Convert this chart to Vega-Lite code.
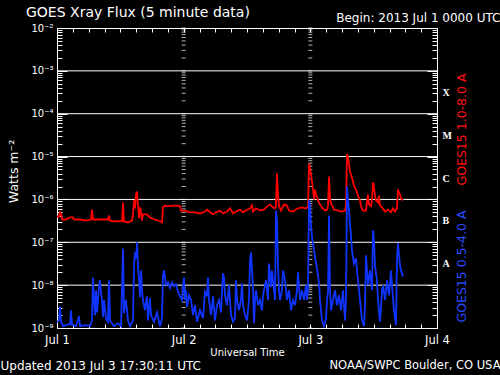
{
  "$schema": "https://vega.github.io/schema/vega-lite/v6.json",
  "width": 380,
  "height": 300,
  "autosize": {"type": "none"},
  "padding": {"left": 57, "top": 28, "right": 63, "bottom": 47},
  "background": "black",
  "title": {"text": "GOES Xray Flux (5 minute data)", "anchor": "start", "frame": "group", "dx": -31, "offset": -16, "baseline": "middle", "fontSize": 14, "fontWeight": "normal", "color": "white", "font": "DejaVu Sans"},
  "datasets": {
    "decades": [{"flux": 1e-3}, {"flux": 1e-4}, {"flux": 1e-5}, {"flux": 1e-6}, {"flux": 1e-7}, {"flux": 1e-8}],
    "logticks": [
      {"flux": 1e-9}, {"flux": 2e-9}, {"flux": 3e-9}, {"flux": 4e-9}, {"flux": 5e-9}, {"flux": 6e-9}, {"flux": 7e-9}, {"flux": 8e-9}, {"flux": 9e-9},
      {"flux": 1e-8}, {"flux": 2e-8}, {"flux": 3e-8}, {"flux": 4e-8}, {"flux": 5e-8}, {"flux": 6e-8}, {"flux": 7e-8}, {"flux": 8e-8}, {"flux": 9e-8},
      {"flux": 1e-7}, {"flux": 2e-7}, {"flux": 3e-7}, {"flux": 4e-7}, {"flux": 5e-7}, {"flux": 6e-7}, {"flux": 7e-7}, {"flux": 8e-7}, {"flux": 9e-7},
      {"flux": 1e-6}, {"flux": 2e-6}, {"flux": 3e-6}, {"flux": 4e-6}, {"flux": 5e-6}, {"flux": 6e-6}, {"flux": 7e-6}, {"flux": 8e-6}, {"flux": 9e-6},
      {"flux": 1e-5}, {"flux": 2e-5}, {"flux": 3e-5}, {"flux": 4e-5}, {"flux": 5e-5}, {"flux": 6e-5}, {"flux": 7e-5}, {"flux": 8e-5}, {"flux": 9e-5},
      {"flux": 1e-4}, {"flux": 2e-4}, {"flux": 3e-4}, {"flux": 4e-4}, {"flux": 5e-4}, {"flux": 6e-4}, {"flux": 7e-4}, {"flux": 8e-4}, {"flux": 9e-4},
      {"flux": 1e-3}, {"flux": 2e-3}, {"flux": 3e-3}, {"flux": 4e-3}, {"flux": 5e-3}, {"flux": 6e-3}, {"flux": 7e-3}, {"flux": 8e-3}, {"flux": 9e-3},
      {"flux": 1e-2}
    ],
    "long": [
      {"hour":0,"flux":4.0e-7},{"hour":0.38,"flux":4.0e-7},{"hour":0.57,"flux":5.0e-7},{"hour":0.76,"flux":4.7e-7},{"hour":0.95,"flux":3.4e-7},{"hour":1.71,"flux":3.4e-7},{"hour":2.46,"flux":3.8e-7},{"hour":3.03,"flux":3.8e-7},{"hour":3.22,"flux":3.4e-7},{"hour":4.36,"flux":3.4e-7},{"hour":5.49,"flux":3.2e-7},{"hour":6.44,"flux":3.4e-7},{"hour":6.63,"flux":5.8e-7},{"hour":6.82,"flux":3.4e-7},{"hour":8.15,"flux":3.4e-7},{"hour":9.66,"flux":3.4e-7},{"hour":9.85,"flux":4.2e-7},{"hour":10.04,"flux":3.2e-7},{"hour":10.42,"flux":3.1e-7},{"hour":12.32,"flux":3.1e-7},{"hour":12.51,"flux":8.5e-7},{"hour":12.69,"flux":3.1e-7},{"hour":13.45,"flux":2.9e-7},{"hour":14.21,"flux":3.2e-7},{"hour":14.40,"flux":4.5e-7},{"hour":14.59,"flux":9.5e-7},{"hour":14.78,"flux":6.2e-7},{"hour":14.97,"flux":1.3e-6},{"hour":15.16,"flux":1.53e-6},{"hour":15.35,"flux":7.2e-7},{"hour":15.54,"flux":3.6e-7},{"hour":15.73,"flux":6.5e-7},{"hour":15.92,"flux":5.0e-7},{"hour":16.11,"flux":3.2e-7},{"hour":16.29,"flux":4.5e-7},{"hour":17.05,"flux":4.5e-7},{"hour":17.62,"flux":3.8e-7},{"hour":18.57,"flux":3.4e-7},{"hour":19.52,"flux":3.1e-7},{"hour":19.89,"flux":2.9e-7},{"hour":20.08,"flux":6.5e-7},{"hour":20.46,"flux":7.2e-7},{"hour":20.84,"flux":6.9e-7},{"hour":21.79,"flux":7.2e-7},{"hour":22.74,"flux":7.2e-7},{"hour":23.31,"flux":6.9e-7},{"hour":23.49,"flux":5.5e-7},{"hour":24.25,"flux":5.5e-7},{"hour":25.20,"flux":5.0e-7},{"hour":26.15,"flux":5.0e-7},{"hour":27.09,"flux":4.7e-7},{"hour":28.04,"flux":5.2e-7},{"hour":28.42,"flux":5.8e-7},{"hour":28.99,"flux":5.0e-7},{"hour":29.56,"flux":4.5e-7},{"hour":30.13,"flux":5.0e-7},{"hour":30.88,"flux":5.5e-7},{"hour":31.45,"flux":4.7e-7},{"hour":32.21,"flux":5.2e-7},{"hour":32.78,"flux":6.2e-7},{"hour":33.35,"flux":4.7e-7},{"hour":33.92,"flux":5.2e-7},{"hour":34.67,"flux":5.8e-7},{"hour":35.24,"flux":5.0e-7},{"hour":35.81,"flux":5.5e-7},{"hour":36.57,"flux":6.2e-7},{"hour":36.95,"flux":7.2e-7},{"hour":37.14,"flux":5.2e-7},{"hour":37.71,"flux":6.2e-7},{"hour":38.46,"flux":5.5e-7},{"hour":39.22,"flux":5.8e-7},{"hour":39.79,"flux":6.9e-7},{"hour":40.36,"flux":7.6e-7},{"hour":40.93,"flux":6.5e-7},{"hour":41.31,"flux":6.2e-7},{"hour":41.49,"flux":6.9e-7},{"hour":41.68,"flux":4.0e-6},{"hour":41.87,"flux":1.3e-6},{"hour":42.06,"flux":7.2e-7},{"hour":42.44,"flux":5.5e-7},{"hour":43.01,"flux":7.6e-7},{"hour":43.58,"flux":7.2e-7},{"hour":43.96,"flux":5.5e-7},{"hour":44.72,"flux":5.2e-7},{"hour":45.28,"flux":5.8e-7},{"hour":45.66,"flux":6.2e-7},{"hour":46.42,"flux":6.5e-7},{"hour":46.99,"flux":6.2e-7},{"hour":47.56,"flux":6.5e-7},{"hour":47.75,"flux":6.9e-6},{"hour":47.94,"flux":5.5e-6},{"hour":48.13,"flux":3.8e-6},{"hour":48.32,"flux":2.5e-6},{"hour":48.51,"flux":1.7e-6},{"hour":48.70,"flux":1.0e-6},{"hour":48.88,"flux":1.7e-6},{"hour":49.07,"flux":1.3e-6},{"hour":49.45,"flux":9.5e-7},{"hour":49.83,"flux":7.6e-7},{"hour":50.21,"flux":6.5e-7},{"hour":50.78,"flux":5.5e-7},{"hour":51.16,"flux":5.8e-7},{"hour":51.35,"flux":7.2e-7},{"hour":51.54,"flux":3.4e-6},{"hour":51.73,"flux":1.05e-6},{"hour":51.92,"flux":8.1e-7},{"hour":52.48,"flux":5.8e-7},{"hour":53.24,"flux":5.5e-7},{"hour":54.00,"flux":5.2e-7},{"hour":54.57,"flux":5.5e-7},{"hour":54.76,"flux":7.2e-7},{"hour":54.95,"flux":1.15e-5},{"hour":55.14,"flux":9.5e-6},{"hour":55.33,"flux":6.5e-6},{"hour":55.52,"flux":4.5e-6},{"hour":55.89,"flux":3.2e-6},{"hour":56.27,"flux":2.1e-6},{"hour":56.65,"flux":1.7e-6},{"hour":57.03,"flux":1.23e-6},{"hour":57.41,"flux":9.5e-7},{"hour":57.60,"flux":6.9e-7},{"hour":57.98,"flux":5.5e-7},{"hour":58.55,"flux":5.5e-7},{"hour":58.74,"flux":9.0e-7},{"hour":58.93,"flux":1.3e-6},{"hour":59.12,"flux":7.6e-7},{"hour":59.49,"flux":6.9e-7},{"hour":59.68,"flux":9.5e-7},{"hour":59.87,"flux":2.5e-6},{"hour":60.06,"flux":1.89e-6},{"hour":60.25,"flux":1.23e-6},{"hour":60.44,"flux":9.5e-7},{"hour":60.82,"flux":8.5e-7},{"hour":61.01,"flux":1.23e-6},{"hour":61.20,"flux":7.2e-7},{"hour":61.58,"flux":6.5e-7},{"hour":62.15,"flux":5.2e-7},{"hour":62.72,"flux":5.8e-7},{"hour":63.28,"flux":5.0e-7},{"hour":63.66,"flux":6.2e-7},{"hour":64.04,"flux":5.2e-7},{"hour":64.42,"flux":6.2e-7},{"hour":64.61,"flux":1.7e-6},{"hour":64.80,"flux":1.45e-6},{"hour":64.99,"flux":1.3e-6},{"hour":65.18,"flux":1.05e-6},{"hour":65.56,"flux":9.5e-7}
    ],
    "short": [
      {"hour":0,"flux":1.37e-9},{"hour":0.38,"flux":1.5e-9},{"hour":0.57,"flux":3.2e-9},{"hour":0.76,"flux":1.4e-9},{"hour":1.14,"flux":1.1e-9},{"hour":1.71,"flux":1.17e-9},{"hour":2.46,"flux":1.23e-9},{"hour":2.65,"flux":2.6e-9},{"hour":2.84,"flux":1.17e-9},{"hour":3.6,"flux":1.1e-9},{"hour":4.17,"flux":1.9e-9},{"hour":4.36,"flux":1.1e-9},{"hour":5.31,"flux":1.17e-9},{"hour":6.25,"flux":1.1e-9},{"hour":6.63,"flux":1.5e-9},{"hour":6.82,"flux":1.5e-8},{"hour":7.01,"flux":4.5e-9},{"hour":7.2,"flux":2.0e-9},{"hour":7.39,"flux":7.6e-9},{"hour":7.58,"flux":2.3e-9},{"hour":7.77,"flux":4.5e-9},{"hour":7.96,"flux":1.0e-8},{"hour":8.15,"flux":1.3e-8},{"hour":8.34,"flux":6.5e-9},{"hour":8.53,"flux":4.5e-9},{"hour":8.72,"flux":1.8e-9},{"hour":8.91,"flux":4.5e-9},{"hour":9.28,"flux":1.7e-9},{"hour":9.66,"flux":1.4e-9},{"hour":9.85,"flux":1.3e-8},{"hour":10.04,"flux":1.5e-9},{"hour":10.8,"flux":1.1e-9},{"hour":11.56,"flux":1.3e-9},{"hour":12.13,"flux":1.1e-9},{"hour":12.51,"flux":7.2e-8},{"hour":12.69,"flux":2.2e-9},{"hour":13.07,"flux":4.5e-9},{"hour":13.45,"flux":1.5e-9},{"hour":13.83,"flux":1.1e-9},{"hour":14.4,"flux":1.5e-9},{"hour":14.59,"flux":2.9e-8},{"hour":14.78,"flux":5.8e-8},{"hour":14.97,"flux":4.2e-8},{"hour":15.16,"flux":1.0e-7},{"hour":15.35,"flux":2.9e-8},{"hour":15.54,"flux":1.3e-8},{"hour":15.73,"flux":5.2e-9},{"hour":15.92,"flux":2.2e-8},{"hour":16.11,"flux":7.6e-9},{"hour":16.29,"flux":4.5e-9},{"hour":16.67,"flux":2.6e-9},{"hour":17.05,"flux":5.5e-9},{"hour":17.24,"flux":1.5e-9},{"hour":17.62,"flux":5.0e-9},{"hour":17.81,"flux":2.0e-9},{"hour":18.38,"flux":1.4e-9},{"hour":18.95,"flux":2.3e-9},{"hour":19.52,"flux":1.1e-9},{"hour":19.89,"flux":1.7e-9},{"hour":20.08,"flux":1.7e-8},{"hour":20.27,"flux":2.2e-8},{"hour":20.65,"flux":1.0e-8},{"hour":21.03,"flux":1.17e-8},{"hour":21.41,"flux":8.5e-9},{"hour":21.79,"flux":1.17e-8},{"hour":22.17,"flux":9.5e-9},{"hour":22.55,"flux":1.05e-8},{"hour":22.93,"flux":6.9e-9},{"hour":23.31,"flux":5.5e-9},{"hour":23.68,"flux":4.5e-9},{"hour":23.87,"flux":1.0e-8},{"hour":24.06,"flux":1.5e-8},{"hour":24.25,"flux":4.5e-9},{"hour":24.44,"flux":7.6e-9},{"hour":24.63,"flux":3.1e-9},{"hour":25.01,"flux":5.8e-9},{"hour":25.39,"flux":4.5e-9},{"hour":25.77,"flux":2.0e-9},{"hour":26.15,"flux":3.4e-9},{"hour":26.53,"flux":1.4e-9},{"hour":27.09,"flux":2.6e-9},{"hour":27.66,"flux":1.7e-9},{"hour":28.04,"flux":6.9e-9},{"hour":28.42,"flux":5.5e-9},{"hour":28.61,"flux":1.5e-8},{"hour":28.8,"flux":4.5e-9},{"hour":29.18,"flux":2.0e-9},{"hour":29.56,"flux":5.5e-9},{"hour":29.94,"flux":1.5e-9},{"hour":30.32,"flux":3.4e-9},{"hour":30.69,"flux":4.5e-9},{"hour":31.07,"flux":2.3e-9},{"hour":31.45,"flux":1.9e-8},{"hour":31.64,"flux":1.5e-8},{"hour":31.83,"flux":5.8e-9},{"hour":32.21,"flux":3.4e-9},{"hour":32.59,"flux":1.0e-8},{"hour":32.97,"flux":2.0e-9},{"hour":33.35,"flux":1.4e-9},{"hour":33.73,"flux":1.7e-9},{"hour":33.92,"flux":1.3e-8},{"hour":34.11,"flux":4.5e-9},{"hour":34.48,"flux":2.6e-9},{"hour":34.86,"flux":4.5e-9},{"hour":35.05,"flux":1.1e-8},{"hour":35.24,"flux":3.4e-9},{"hour":35.62,"flux":2.0e-9},{"hour":36.0,"flux":1.5e-9},{"hour":36.38,"flux":4.5e-9},{"hour":36.57,"flux":3.8e-8},{"hour":36.76,"flux":5.8e-8},{"hour":36.95,"flux":2.2e-8},{"hour":37.14,"flux":9.0e-9},{"hour":37.33,"flux":1.3e-9},{"hour":37.52,"flux":4.5e-9},{"hour":37.71,"flux":7.6e-9},{"hour":38.08,"flux":3.4e-9},{"hour":38.46,"flux":4.5e-9},{"hour":38.84,"flux":2.6e-9},{"hour":39.03,"flux":5.8e-9},{"hour":39.41,"flux":1.0e-8},{"hour":39.6,"flux":1.3e-8},{"hour":39.98,"flux":4.5e-9},{"hour":40.17,"flux":3.2e-8},{"hour":40.36,"flux":1.7e-8},{"hour":40.55,"flux":9.0e-9},{"hour":40.74,"flux":2.2e-8},{"hour":41.12,"flux":7.6e-9},{"hour":41.31,"flux":4.5e-9},{"hour":41.49,"flux":5.5e-7},{"hour":41.68,"flux":3.2e-7},{"hour":41.87,"flux":2.9e-8},{"hour":42.06,"flux":7.6e-9},{"hour":42.25,"flux":4.5e-9},{"hour":42.63,"flux":7.6e-9},{"hour":42.82,"flux":2.2e-8},{"hour":43.2,"flux":1.3e-8},{"hour":43.58,"flux":4.5e-9},{"hour":43.96,"flux":7.6e-9},{"hour":44.34,"flux":2.6e-9},{"hour":44.72,"flux":4.5e-9},{"hour":45.09,"flux":3.4e-9},{"hour":45.47,"flux":7.6e-9},{"hour":45.66,"flux":2.0e-8},{"hour":45.85,"flux":1.0e-8},{"hour":46.04,"flux":4.5e-9},{"hour":46.42,"flux":7.6e-9},{"hour":46.8,"flux":4.5e-9},{"hour":47.18,"flux":1.0e-8},{"hour":47.37,"flux":4.5e-9},{"hour":47.56,"flux":7.6e-9},{"hour":47.75,"flux":9.5e-7},{"hour":47.94,"flux":7.2e-7},{"hour":48.13,"flux":2.5e-7},{"hour":48.32,"flux":1.3e-7},{"hour":48.7,"flux":6.5e-8},{"hour":49.07,"flux":3.4e-8},{"hour":49.45,"flux":1.7e-8},{"hour":49.64,"flux":1.1e-8},{"hour":49.83,"flux":4.5e-9},{"hour":50.21,"flux":1.5e-9},{"hour":50.59,"flux":1.1e-9},{"hour":50.97,"flux":1.7e-9},{"hour":51.16,"flux":4.5e-9},{"hour":51.35,"flux":6.9e-9},{"hour":51.54,"flux":4.2e-7},{"hour":51.73,"flux":7.6e-9},{"hour":51.92,"flux":2.6e-9},{"hour":52.29,"flux":4.5e-9},{"hour":52.67,"flux":7.6e-9},{"hour":53.05,"flux":3.4e-9},{"hour":53.43,"flux":5.8e-9},{"hour":53.81,"flux":2.6e-9},{"hour":54.19,"flux":7.6e-9},{"hour":54.57,"flux":1.5e-9},{"hour":54.76,"flux":4.5e-9},{"hour":54.95,"flux":2.0e-6},{"hour":55.14,"flux":9.5e-7},{"hour":55.33,"flux":5.5e-7},{"hour":55.52,"flux":2.5e-7},{"hour":55.71,"flux":1.45e-7},{"hour":55.89,"flux":6.5e-8},{"hour":56.27,"flux":3.2e-8},{"hour":56.65,"flux":4.2e-8},{"hour":56.84,"flux":2.2e-8},{"hour":57.03,"flux":1.3e-8},{"hour":57.41,"flux":4.5e-9},{"hour":57.79,"flux":1.5e-9},{"hour":58.17,"flux":1.1e-9},{"hour":58.36,"flux":3.4e-9},{"hour":58.55,"flux":5.0e-8},{"hour":58.74,"flux":2.2e-8},{"hour":58.93,"flux":1.0e-8},{"hour":59.31,"flux":2.2e-8},{"hour":59.68,"flux":7.6e-9},{"hour":59.87,"flux":1.9e-7},{"hour":60.06,"flux":1.1e-7},{"hour":60.25,"flux":2.9e-8},{"hour":60.63,"flux":1.3e-8},{"hour":60.82,"flux":4.5e-9},{"hour":61.2,"flux":1.4e-9},{"hour":61.58,"flux":7.6e-9},{"hour":61.77,"flux":1.0e-8},{"hour":62.15,"flux":4.5e-9},{"hour":62.53,"flux":1.3e-8},{"hour":62.91,"flux":5.8e-9},{"hour":63.28,"flux":2.2e-8},{"hour":63.47,"flux":1.0e-8},{"hour":63.85,"flux":2.6e-9},{"hour":64.23,"flux":1.17e-9},{"hour":64.42,"flux":4.2e-8},{"hour":64.61,"flux":9.5e-8},{"hour":64.8,"flux":5.0e-8},{"hour":64.99,"flux":2.9e-8},{"hour":65.18,"flux":2.2e-8},{"hour":65.56,"flux":1.6e-8}
    ]
  },
  "resolve": {"axis": {"x": "independent", "y": "independent"}},
  "layer": [
    {
      "data": {"name": "decades"},
      "mark": {"type": "rule", "color": "white", "strokeWidth": 1},
      "encoding": {
        "y": {"field": "flux", "type": "quantitative", "scale": {"type": "log", "domain": [1e-9, 1e-2], "nice": false},
          "axis": {"orient": "right", "values": [3.162e-4, 3.162e-5, 3.162e-6, 3.162e-7, 3.162e-8], "ticks": false, "labelExpr": "datum.value > 1e-4 ? 'X' : datum.value > 1e-5 ? 'M' : datum.value > 1e-6 ? 'C' : datum.value > 1e-7 ? 'B' : 'A'", "labelFont": "Liberation Serif", "labelFontWeight": "bold", "labelFontSize": 10, "labelPadding": 5, "labelAlign": "left", "title": "GOES15 1.0-8.0 A", "titleColor": "#ff1010", "titleFontSize": 12.5, "titleAngle": 270, "titleX": 24, "titleY": 101, "titleAlign": "center", "titleBaseline": "middle"}}
      }
    },
    {
      "data": {"name": "logticks"},
      "mark": {"type": "tick", "orient": "horizontal", "color": "white", "size": 4, "thickness": 1},
      "encoding": {
        "x": {"datum": 24, "type": "quantitative", "scale": {"domain": [0, 72], "nice": false, "zero": false},
          "axis": {"orient": "bottom", "values": [], "ticks": false, "labels": false, "title": "Updated 2013 Jul 3 17:30:11 UTC", "titleFontSize": 12, "titleX": -57, "titleY": 37, "titleAlign": "left", "titleBaseline": "middle", "titleAngle": 0}},
        "y": {"field": "flux", "type": "quantitative", "scale": {"type": "log", "domain": [1e-9, 1e-2], "nice": false}, "axis": null}
      }
    },
    {
      "data": {"name": "logticks"},
      "mark": {"type": "tick", "orient": "horizontal", "color": "white", "size": 4, "thickness": 1},
      "encoding": {
        "x": {"datum": 48, "type": "quantitative", "scale": {"domain": [0, 72], "nice": false, "zero": false},
          "axis": {"orient": "bottom", "values": [], "ticks": false, "labels": false, "title": "NOAA/SWPC Boulder, CO USA", "titleFontSize": 11.5, "titleX": 443, "titleY": 37, "titleAlign": "right", "titleBaseline": "middle", "titleAngle": 0}},
        "y": {"field": "flux", "type": "quantitative", "scale": {"type": "log", "domain": [1e-9, 1e-2], "nice": false}, "axis": null}
      }
    },
    {
      "data": {"name": "long"},
      "mark": {"type": "line", "color": "#ff0000", "strokeWidth": 1.8, "clip": true},
      "encoding": {
        "x": {"field": "hour", "type": "quantitative", "scale": {"domain": [0, 72], "nice": false, "zero": false},
          "axis": {"orient": "bottom", "values": [0,3,6,9,12,15,18,21,24,27,30,33,36,39,42,45,48,51,54,57,60,63,66,69,72], "labelExpr": "datum.value % 24 == 0 ? 'Jul ' + (datum.value / 24 + 1) : ''", "tickSize": -4, "labelPadding": 10, "labelFontSize": 11.5, "title": "Universal Time", "titleFontSize": 10, "titleX": 190, "titleY": 24, "titleAlign": "center", "titleBaseline": "middle"}},
        "y": {"field": "flux", "type": "quantitative", "scale": {"type": "log", "domain": [1e-9, 1e-2], "nice": false},
          "axis": {"orient": "left",
            "values": [1e-9,2e-9,3e-9,4e-9,5e-9,6e-9,7e-9,8e-9,9e-9,1e-8,2e-8,3e-8,4e-8,5e-8,6e-8,7e-8,8e-8,9e-8,1e-7,2e-7,3e-7,4e-7,5e-7,6e-7,7e-7,8e-7,9e-7,1e-6,2e-6,3e-6,4e-6,5e-6,6e-6,7e-6,8e-6,9e-6,1e-5,2e-5,3e-5,4e-5,5e-5,6e-5,7e-5,8e-5,9e-5,1e-4,2e-4,3e-4,4e-4,5e-4,6e-4,7e-4,8e-4,9e-4,1e-3,2e-3,3e-3,4e-3,5e-3,6e-3,7e-3,8e-3,9e-3,1e-2],
            "labelExpr": "abs(datum.value * pow(10, round(-log(datum.value) / LN10)) - 1) < 0.01 ? '10⁻' + ['⁰','¹','²','³','⁴','⁵','⁶','⁷','⁸','⁹'][round(-log(datum.value) / LN10)] : ''",
            "tickSize": {"condition": {"test": "abs(datum.value * pow(10, round(-log(datum.value) / LN10)) - 1) < 0.01", "value": -10}, "value": -5},
            "labelPadding": 14, "labelFontSize": 10,
            "title": "Watts m⁻²", "titleFontSize": 12.5, "titleX": -44, "titleY": 143, "titleAngle": 270, "titleAlign": "center", "titleBaseline": "middle"}}
      }
    },
    {
      "data": {"name": "short"},
      "mark": {"type": "line", "color": "#1034ff", "strokeWidth": 1.8, "clip": true},
      "encoding": {
        "x": {"field": "hour", "type": "quantitative", "scale": {"domain": [0, 72], "nice": false, "zero": false},
          "axis": {"orient": "top", "values": [0,3,6,9,12,15,18,21,24,27,30,33,36,39,42,45,48,51,54,57,60,63,66,69,72], "labels": false, "tickSize": -4, "title": "Begin:  2013 Jul 1 0000 UTC", "titleFontSize": 12, "titleX": 443, "titleY": -11, "titleAlign": "right", "titleBaseline": "middle", "titleAngle": 0}},
        "y": {"field": "flux", "type": "quantitative", "scale": {"type": "log", "domain": [1e-9, 1e-2], "nice": false},
          "axis": {"orient": "right",
            "values": [1e-9,2e-9,3e-9,4e-9,5e-9,6e-9,7e-9,8e-9,9e-9,1e-8,2e-8,3e-8,4e-8,5e-8,6e-8,7e-8,8e-8,9e-8,1e-7,2e-7,3e-7,4e-7,5e-7,6e-7,7e-7,8e-7,9e-7,1e-6,2e-6,3e-6,4e-6,5e-6,6e-6,7e-6,8e-6,9e-6,1e-5,2e-5,3e-5,4e-5,5e-5,6e-5,7e-5,8e-5,9e-5,1e-4,2e-4,3e-4,4e-4,5e-4,6e-4,7e-4,8e-4,9e-4,1e-3,2e-3,3e-3,4e-3,5e-3,6e-3,7e-3,8e-3,9e-3,1e-2],
            "labels": false,
            "tickSize": {"condition": {"test": "abs(datum.value * pow(10, round(-log(datum.value) / LN10)) - 1) < 0.01", "value": -10}, "value": -5},
            "title": "GOES15 0.5-4.0 A", "titleColor": "#2a4bff", "titleFontSize": 12.5, "titleAngle": 270, "titleX": 24, "titleY": 238, "titleAlign": "center", "titleBaseline": "middle"}}
      }
    }
  ],
  "config": {
    "view": {"stroke": "white", "strokeWidth": 1},
    "axis": {"domain": false, "grid": false, "labelColor": "white", "tickColor": "white", "titleColor": "white", "labelFont": "DejaVu Sans", "titleFont": "DejaVu Sans", "titleFontWeight": "normal", "labelFlush": false, "labelOverlap": false, "labelBound": false, "tickWidth": 1}
  }
}
